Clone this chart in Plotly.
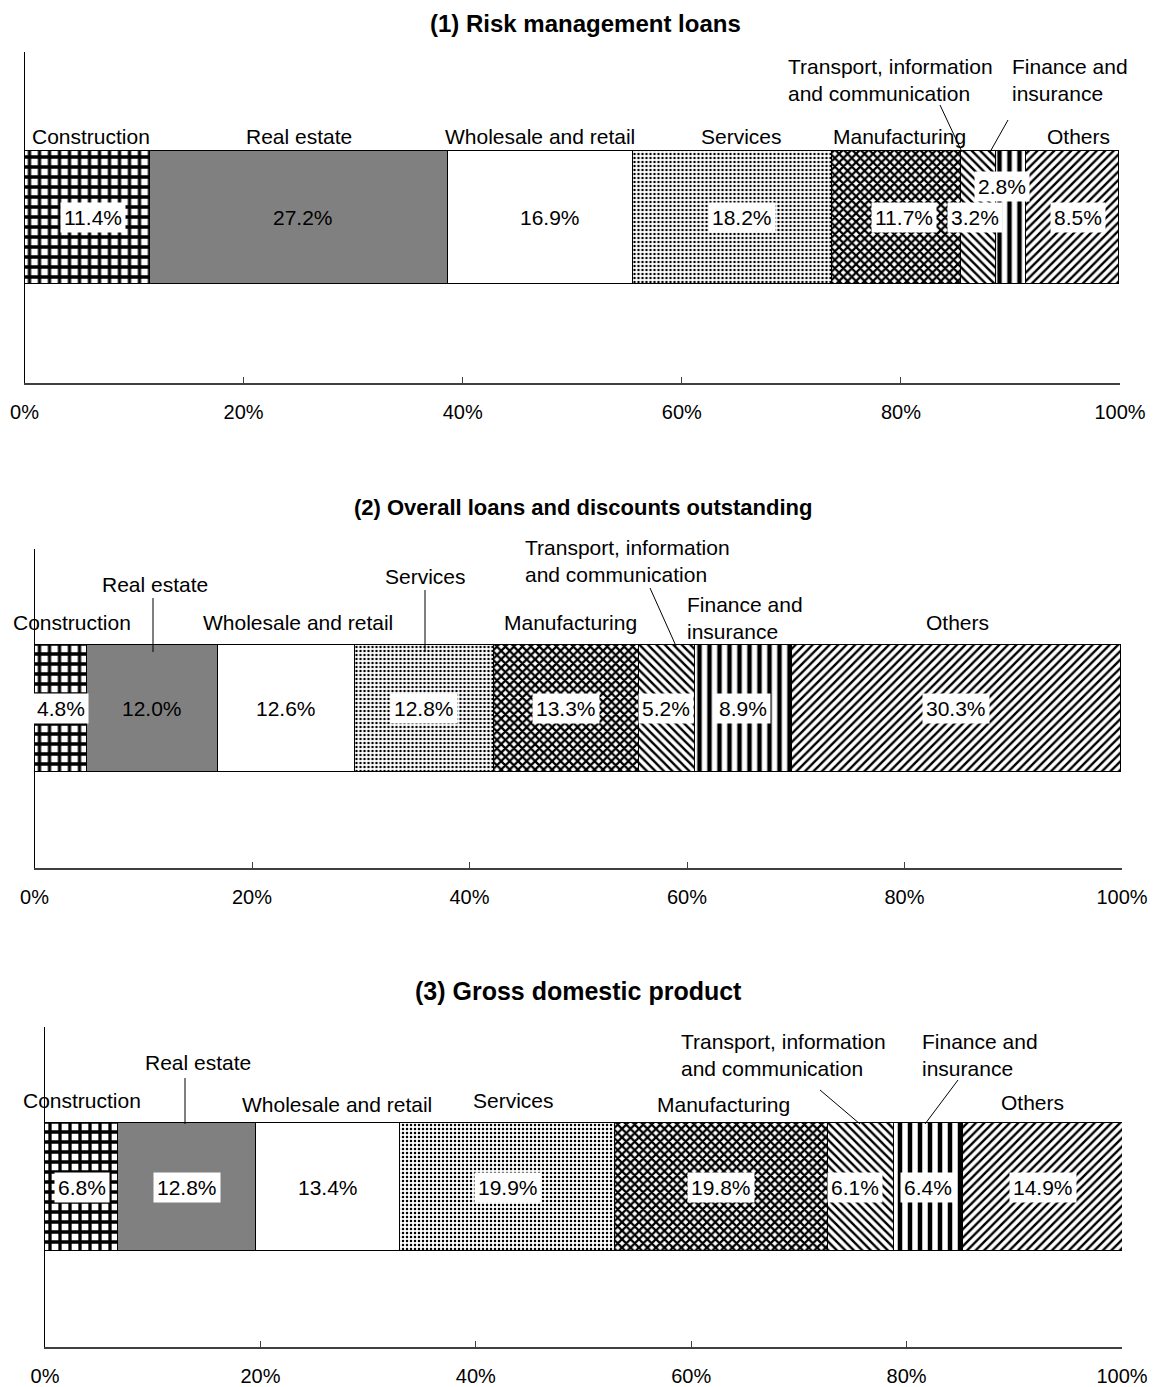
import plotly.graph_objects as go
import numpy as np

W, H = 1153, 1387

# ---- data -------------------------------------------------------------
categories = [
    "Construction", "Real estate", "Wholesale and retail", "Services",
    "Manufacturing", "Transport, information and communication",
    "Finance and insurance", "Others",
]
risk_management_loans = [11.4, 27.2, 16.9, 18.2, 11.7, 3.2, 2.8, 8.5]
overall_loans = [4.8, 12.0, 12.6, 12.8, 13.3, 5.2, 8.9, 30.3]
gdp_shares = [6.8, 12.8, 13.4, 19.9, 19.8, 6.1, 6.4, 14.9]

panel_titles = [
    "(1) Risk management loans",
    "(2) Overall loans and discounts outstanding",
    "(3) Gross domestic product",
]
x_tick_values = [0, 20, 40, 60, 80, 100]
x_tick_labels = ["0%", "20%", "40%", "60%", "80%", "100%"]

# ---- styling ------------------------------------------------------------
FONT = "Arial, Liberation Sans, sans-serif"
LABEL_SIZE = 21
TICK_SIZE = 20
TITLE_SIZES = [24, 22, 25]

category_text = [
    "Construction", "Real estate", "Wholesale and retail", "Services",
    "Manufacturing", "Transport, information<br>and communication",
    "Finance and<br>insurance", "Others",
]


def pat(shape, size, solidity):
    return dict(shape=shape, fgcolor="black", bgcolor="white", fgopacity=1,
                size=size, solidity=solidity)


fills = [
    dict(color="white", pattern=pat("+", 10, 0.55)),
    dict(color="#808080"),
    dict(color="white"),
    dict(color="white", pattern=pat(".", 4, 0.3)),
    dict(color="white", pattern=pat("x", 6, 0.6)),
    dict(color="white", pattern=pat("\\", 6, 0.4)),
    dict(color="white", pattern=pat("|", 10, 0.45)),
    dict(color="white", pattern=pat("/", 6, 0.4)),
]

# plot-area rectangles in pixels: (left, right, top, bottom)
panel_boxes = [
    (24.5, 1120, 52, 383),
    (34.5, 1122, 549, 868),
    (45, 1122, 1027, 1347),
]
title_pos = [(585, 23), (583, 507), (578, 991)]

# category label centres in pixels, one per category
label_pos = [
    [(91, 137), (299, 137), (540, 137), (741, 137), (899, 137),
     (890, 80), (1070, 80), (1078, 137)],
    [(72, 622), (155, 585), (298, 622), (425, 576), (570, 622),
     (627, 561), (745, 618), (957, 622)],
    [(82, 1100), (198, 1062), (337, 1104), (513, 1100), (723, 1104),
     (783, 1055), (980, 1055), (1032, 1102)],
]
# leader lines in pixels
leaders = [
    [(940, 105, 962, 152), (1008, 120, 990, 152)],
    [(153, 598, 153, 652), (425, 590, 425, 652), (650, 588, 676, 646)],
    [(185, 1078, 185, 1124), (820, 1090, 860, 1124), (958, 1080, 925, 1124)],
]
# value labels drawn without a white box, and nudges (px)
unboxed = [{1}, {1}, set()]
value_xshift = [
    {0: 6, 1: 5, 2: 10, 3: 10, 4: 8, 5: -3, 6: -8, 7: 6},
    {},
    {5: -6},
]
value_yshift = [{6: 31}, {}, {}]


def px(x):
    return x / W


def py(y):
    return 1 - y / H


fig = go.Figure()
annotations = []
shapes = []
layout_axes = {}

for i, values in enumerate([risk_management_loans, overall_loans, gdp_shares]):
    n = "" if i == 0 else str(i + 1)
    xa, ya = "x" + n, "y" + n
    left, right, top, bottom = panel_boxes[i]

    for j, v in enumerate(values):
        fig.add_trace(go.Bar(
            x=[v], y=[0.5], orientation="h", width=0.4,
            name=categories[j], xaxis=xa, yaxis=ya, showlegend=False,
            marker=dict(line=dict(color="black", width=1), **fills[j]),
        ))

    # value labels at segment centres
    ends = np.cumsum(values)
    centres = ends - np.array(values) / 2
    for j, (c, v) in enumerate(zip(centres, values)):
        boxed = j not in unboxed[i]
        annotations.append(dict(
            x=c, y=0.5, xref=xa, yref=ya, text=f"{v:.1f}%", showarrow=False,
            xanchor="center", yanchor="middle",
            font=dict(family=FONT, size=LABEL_SIZE, color="black"),
            bgcolor="white" if boxed else None, borderpad=3,
            xshift=value_xshift[i].get(j, 0),
            yshift=value_yshift[i].get(j, 0),
        ))

    # category labels
    for j, (lx, ly) in enumerate(label_pos[i]):
        annotations.append(dict(
            x=px(lx), y=py(ly), xref="paper", yref="paper",
            xanchor="center", yanchor="middle",
            text=category_text[j], showarrow=False, align="left",
            font=dict(family=FONT, size=LABEL_SIZE, color="black"),
        ))

    for (x0, y0, x1, y1) in leaders[i]:
        shapes.append(dict(type="line", xref="paper", yref="paper",
                           x0=px(x0), y0=py(y0), x1=px(x1), y1=py(y1),
                           line=dict(color="black", width=1)))

    # panel title
    tx, ty = title_pos[i]
    annotations.append(dict(
        x=px(tx), y=py(ty), xref="paper", yref="paper",
        xanchor="center", yanchor="middle",
        text=f"<b>{panel_titles[i]}</b>", showarrow=False,
        font=dict(family=FONT, size=TITLE_SIZES[i], color="black"),
    ))

    layout_axes["xaxis" + n] = dict(
        domain=[px(left), px(right)], anchor=ya, range=[0, 100],
        tickvals=x_tick_values, ticktext=x_tick_labels,
        ticks="inside", ticklen=6, tickcolor="#404040",
        showline=True, linecolor="#404040", linewidth=2,
        showgrid=False, zeroline=False, automargin=False,
        ticklabelstandoff=10,
        tickfont=dict(family=FONT, size=TICK_SIZE, color="black"),
    )
    layout_axes["yaxis" + n] = dict(
        domain=[py(bottom), py(top)], anchor=xa, range=[0, 1],
        tickvals=[1], ticks="inside", ticklen=3, tickcolor="black",
        showticklabels=False, showline=True, linecolor="black",
        linewidth=1, showgrid=False, zeroline=False, automargin=False,
    )

fig.update_layout(
    width=W, height=H, margin=dict(l=0, r=0, t=0, b=0),
    paper_bgcolor="white", plot_bgcolor="white",
    barmode="stack", bargap=0, showlegend=False,
    annotations=annotations, shapes=shapes,
    font=dict(family=FONT, size=LABEL_SIZE, color="black"),
    **layout_axes,
)

fig.write_html("out.html")
